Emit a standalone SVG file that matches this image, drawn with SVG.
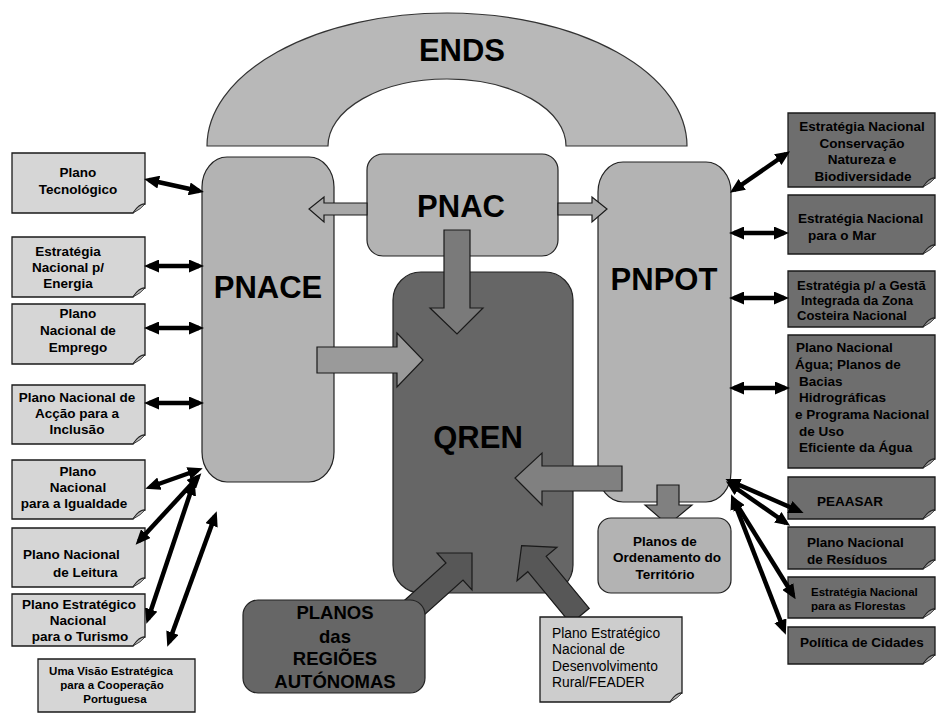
<svg xmlns="http://www.w3.org/2000/svg" width="936" height="713" viewBox="0 0 936 713">
<defs>
<style>
.t{font-family:"Liberation Sans",Arial,sans-serif;font-weight:bold;font-size:13.5px;fill:#000}
.c{text-anchor:middle}
.big{font-size:31px}
.s{font-size:11.5px}
.g{font-size:13px}
.r{font-weight:normal;font-size:13.8px}
.pl{font-size:18.5px}
.lb{fill:#d6d6d6;stroke:#1a1a1a;stroke-width:1.3}
.rb{fill:#6e6e6e;stroke:#1a1a1a;stroke-width:1.3}
.lf{fill:#b8b8b8;stroke:#1a1a1a;stroke-width:0.8}
.rf{fill:#a0a0a0;stroke:#1a1a1a;stroke-width:0.8}
.mid{fill:#b3b3b3;stroke:#222;stroke-width:1.2}
.dk{fill:#666;stroke:#222;stroke-width:1.2}
.ba{stroke:#1a1a1a;stroke-width:1.2}
.con line{stroke:#000;stroke-width:4.5;marker-start:url(#ah);marker-end:url(#ah)}
</style>
<marker id="ah" markerUnits="userSpaceOnUse" markerWidth="15" markerHeight="13" refX="10" refY="6.5" orient="auto-start-reverse">
<path d="M0,0 L15,6.5 L0,13 Z" fill="#000"/>
</marker>
</defs>
<rect width="936" height="713" fill="#fff"/>

<g id="ends">
<path d="M207,146 A240,133 0 0 1 687,146 L566,146 A119,67 0 0 0 328,146 Z" fill="#b8b8b8" stroke="#333" stroke-width="1.2"/>
<text class="t c big" x="462" y="61">ENDS</text>
</g>

<g id="pnace">
<rect x="202" y="157" width="132" height="325" rx="25" ry="30" class="mid"/>
<text class="t c big" x="268" y="298">PNACE</text>
</g>

<g id="pnpot">
<rect x="598" y="162" width="133" height="340" rx="25" ry="30" class="mid"/>
<text class="t c big" x="664" y="290">PNPOT</text>
</g>

<g id="qren">
<rect x="393" y="272" width="180" height="321" rx="28" class="dk"/>
<text class="t c big" x="478" y="448">QREN</text>
</g>

<g id="pnac">
<rect x="367" y="154" width="191" height="102" rx="16" class="mid"/>
<text class="t c big" x="461" y="217">PNAC</text>
</g>

<g id="block-arrows">
<polygon class="ba" fill="#a8a8a8" points="367,203 324,203 324,197 309,209 324,222 324,215 367,215"/>
<polygon class="ba" fill="#a8a8a8" points="558,203 592,203 592,197 607,209 592,222 592,215 558,215"/>
<polygon class="ba" fill="#7a7a7a" points="444,230 470,230 470,308 483,308 457,334 430,308 444,308"/>
<polygon class="ba" fill="#9a9a9a" points="317,347 397,347 397,333 423,360 397,387 397,373 317,373"/>
<polygon class="ba" fill="#808080" points="622,466 542,466 542,453 515,478 542,505 542,491 622,491"/>
<polygon class="ba" fill="#808080" points="657,485 679,485 679,505 692,505 668,525 645,505 657,505"/>
<polygon class="ba" fill="#575757" points="396,608 446,563 437,553 472,553 472,590 463,580 413,625"/>
<polygon class="ba" fill="#575757" points="521.6,545.6 557,547.3 546.2,556.3 589.2,608.3 570.8,623.7 527.8,571.7 517,580.7"/>
</g>

<g id="planos-ordenamento">
<rect x="598" y="518" width="133" height="75" rx="13" class="mid"/>
<text class="t c" x="665" y="546">Planos de</text>
<text class="t c" x="667" y="562">Ordenamento do</text>
<text class="t c" x="665" y="579">Território</text>
</g>

<g id="planos-regioes">
<rect x="243" y="600" width="182" height="93" rx="15" class="dk"/>
<text class="t c pl" x="335" y="619">PLANOS</text>
<text class="t c pl" x="335" y="643">das</text>
<text class="t c pl" x="335" y="665">REGIÕES</text>
<text class="t c pl" x="335" y="688">AUTÓNOMAS</text>
</g>

<g id="pen-feader">
<path class="lb" style="fill:#cdcdcd" d="M540,617 H682 V693 Q676,693 670,702 H540 Z"/>
<path class="lf" d="M682,693 Q676,693 670,702 Q678,698 682,693 Z"/>
<text class="t r" x="552" y="638">Plano Estratégico</text>
<text class="t r" x="552" y="654">Nacional de</text>
<text class="t r" x="552" y="671">Desenvolvimento</text>
<text class="t r" x="552" y="687">Rural/FEADER</text>
</g>

<g id="plano-tecnologico">
<path class="lb" d="M12,153 H145 V204 Q139,204 133,213 H12 Z"/>
<path class="lf" d="M145,204 Q139,204 133,213 Q141,209 145,204 Z"/>
<text class="t c" x="78" y="177">Plano</text>
<text class="t c" x="78" y="194">Tecnológico</text>
</g>

<g id="energia">
<path class="lb" d="M12,237 H145 V288 Q139,288 133,297 H12 Z"/>
<path class="lf" d="M145,288 Q139,288 133,297 Q141,293 145,288 Z"/>
<text class="t c" x="68" y="256">Estratégia</text>
<text class="t c" x="68" y="272">Nacional p/</text>
<text class="t c" x="68" y="288">Energia</text>
</g>

<g id="emprego">
<path class="lb" d="M12,304 H145 V355 Q139,355 133,364 H12 Z"/>
<path class="lf" d="M145,355 Q139,355 133,364 Q141,360 145,355 Z"/>
<text class="t c" x="78" y="318">Plano</text>
<text class="t c" x="78" y="335">Nacional de</text>
<text class="t c" x="78" y="352">Emprego</text>
</g>

<g id="inclusao">
<path class="lb" d="M12,385 H145 V435 Q139,435 133,444 H12 Z"/>
<path class="lf" d="M145,435 Q139,435 133,444 Q141,440 145,435 Z"/>
<text class="t c" x="77" y="402">Plano Nacional de</text>
<text class="t c" x="77" y="418">Acção para a</text>
<text class="t c" x="77" y="434">Inclusão</text>
</g>

<g id="igualdade">
<path class="lb" d="M12,460 H145 V510 Q139,510 133,519 H12 Z"/>
<path class="lf" d="M145,510 Q139,510 133,519 Q141,515 145,510 Z"/>
<text class="t c" x="78" y="476">Plano</text>
<text class="t c" x="78" y="492">Nacional</text>
<text class="t c" x="74" y="508">para a Igualdade</text>
</g>

<g id="leitura">
<path class="lb" d="M12,528 H145 V578 Q139,578 133,587 H12 Z"/>
<path class="lf" d="M145,578 Q139,578 133,587 Q141,583 145,578 Z"/>
<text class="t" x="23" y="559">Plano Nacional</text>
<text class="t" x="53" y="577">de Leitura</text>
</g>

<g id="turismo">
<path class="lb" d="M12,594 H145 V637 Q139,637 133,646 H12 Z"/>
<path class="lf" d="M145,637 Q139,637 133,646 Q141,642 145,637 Z"/>
<text class="t c" x="79" y="609">Plano Estratégico</text>
<text class="t c" x="78" y="625">Nacional</text>
<text class="t c" x="80" y="641">para o Turismo</text>
</g>

<g id="cooperacao">
<path class="lb" d="M38,659 H195 V712 H38 Z"/>
<text class="t c s" x="111" y="675">Uma Visão Estratégica</text>
<text class="t c s" x="112" y="689">para a Cooperação</text>
<text class="t c s" x="115" y="703">Portuguesa</text>
</g>

<g id="conservacao">
<path class="rb" d="M788,113 H935 V178 Q929,178 923,187 H788 Z"/>
<path class="rf" d="M935,178 Q929,178 923,187 Q931,183 935,178 Z"/>
<text class="t c" x="862" y="131">Estratégia Nacional</text>
<text class="t c" x="862" y="148">Conservação</text>
<text class="t c" x="862" y="164">Natureza e</text>
<text class="t c" x="863" y="181">Biodiversidade</text>
</g>

<g id="mar">
<path class="rb" d="M788,195 H935 V245 Q929,245 923,254 H788 Z"/>
<path class="rf" d="M935,245 Q929,245 923,254 Q931,250 935,245 Z"/>
<text class="t" x="798" y="223">Estratégia Nacional</text>
<text class="t" x="808" y="240">para o Mar</text>
</g>

<g id="costeira">
<path class="rb" d="M788,271 H935 V318 Q929,318 923,327 H788 Z"/>
<path class="rf" d="M935,318 Q929,318 923,327 Q931,323 935,318 Z"/>
<text class="t g" x="797" y="290">Estratégia p/ a Gestã</text>
<text class="t g" x="801" y="305">Integrada da Zona</text>
<text class="t g" x="797" y="320">Costeira Nacional</text>
</g>

<g id="agua">
<path class="rb" d="M788,335 H935 V459 Q929,459 923,468 H788 Z"/>
<path class="rf" d="M935,459 Q929,459 923,468 Q931,464 935,459 Z"/>
<text class="t" x="796" y="352">Plano Nacional</text>
<text class="t" x="795" y="369">Água; Planos de</text>
<text class="t" x="799" y="386">Bacias</text>
<text class="t" x="799" y="402">Hidrográficas</text>
<text class="t" x="795" y="419">e Programa Nacional</text>
<text class="t" x="799" y="436">de Uso</text>
<text class="t" x="799" y="452">Eficiente da Água</text>
</g>

<g id="peaasar">
<path class="rb" d="M788,477 H935 V510 Q929,510 923,519 H788 Z"/>
<path class="rf" d="M935,510 Q929,510 923,519 Q931,515 935,510 Z"/>
<text class="t" x="817" y="506">PEAASAR</text>
</g>

<g id="residuos">
<path class="rb" d="M788,527 H935 V560 Q929,560 923,569 H788 Z"/>
<path class="rf" d="M935,560 Q929,560 923,569 Q931,565 935,560 Z"/>
<text class="t" x="807" y="547">Plano Nacional</text>
<text class="t" x="807" y="564">de Resíduos</text>
</g>

<g id="florestas">
<path class="rb" d="M788,577 H935 V609 Q929,609 923,618 H788 Z"/>
<path class="rf" d="M935,609 Q929,609 923,618 Q931,614 935,609 Z"/>
<text class="t s" x="811" y="596">Estratégia Nacional</text>
<text class="t s" x="811" y="610">para as Florestas</text>
</g>

<g id="cidades">
<path class="rb" d="M788,627 H935 V655 Q929,655 923,664 H788 Z"/>
<path class="rf" d="M935,655 Q929,655 923,664 Q931,660 935,655 Z"/>
<text class="t" x="800" y="647">Política de Cidades</text>
</g>

<g id="connectors" class="con">
<line x1="149" y1="180" x2="199" y2="191"/>
<line x1="149" y1="266" x2="199" y2="266"/>
<line x1="149" y1="328" x2="199" y2="328"/>
<line x1="149" y1="403" x2="199" y2="403"/>
<line x1="150" y1="487" x2="198" y2="470"/>
<line x1="139" y1="541" x2="198" y2="477"/>
<line x1="148" y1="619" x2="193" y2="485"/>
<line x1="169" y1="642" x2="215" y2="516"/>
<line x1="734" y1="190" x2="786" y2="154"/>
<line x1="734" y1="233" x2="784" y2="233"/>
<line x1="734" y1="298" x2="784" y2="298"/>
<line x1="734" y1="388" x2="785" y2="388"/>
<line x1="730" y1="481" x2="799" y2="511"/>
<line x1="730" y1="484" x2="786" y2="523"/>
<line x1="734" y1="500" x2="793" y2="595"/>
<line x1="733" y1="499" x2="784" y2="630"/>
</g>
</svg>
